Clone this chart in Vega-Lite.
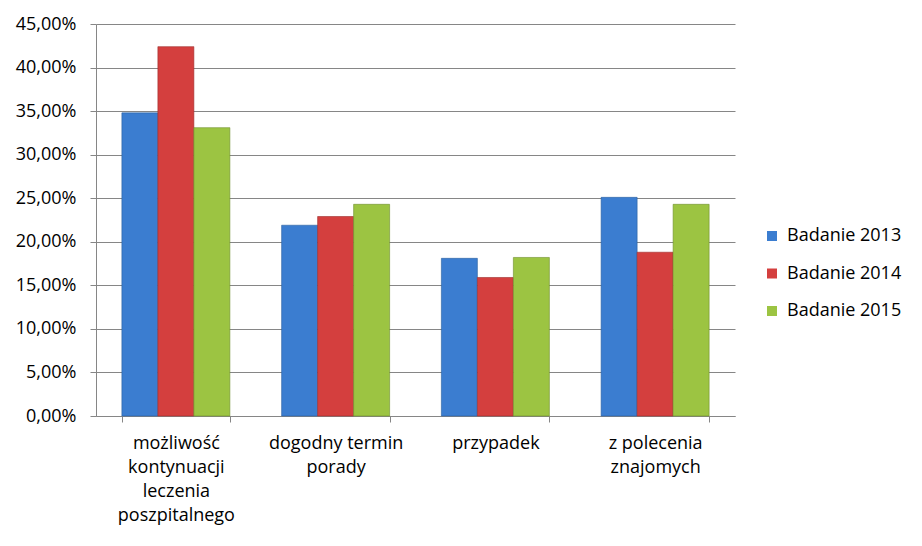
{
  "$schema": "https://vega.github.io/schema/vega-lite/v6.json",
  "autosize": "none",
  "width": 639,
  "height": 392,
  "padding": {"left": 96, "top": 24, "right": 187, "bottom": 130},
  "background": "white",
  "config": {
    "locale": {"number": {"decimal": ",", "thousands": " ", "grouping": [3], "currency": ["", " zł"]}},
    "font": "Open Sans",
    "view": {"stroke": null}
  },
  "data": {
    "values": [
      {"category": "możliwość|kontynuacji|leczenia|poszpitalnego", "series": "Badanie 2013", "value": 0.348},
      {"category": "możliwość|kontynuacji|leczenia|poszpitalnego", "series": "Badanie 2014", "value": 0.424},
      {"category": "możliwość|kontynuacji|leczenia|poszpitalnego", "series": "Badanie 2015", "value": 0.331},
      {"category": "dogodny termin|porady", "series": "Badanie 2013", "value": 0.219},
      {"category": "dogodny termin|porady", "series": "Badanie 2014", "value": 0.229},
      {"category": "dogodny termin|porady", "series": "Badanie 2015", "value": 0.243},
      {"category": "przypadek", "series": "Badanie 2013", "value": 0.181},
      {"category": "przypadek", "series": "Badanie 2014", "value": 0.159},
      {"category": "przypadek", "series": "Badanie 2015", "value": 0.182},
      {"category": "z polecenia|znajomych", "series": "Badanie 2013", "value": 0.251},
      {"category": "z polecenia|znajomych", "series": "Badanie 2014", "value": 0.188},
      {"category": "z polecenia|znajomych", "series": "Badanie 2015", "value": 0.243}
    ]
  },
  "mark": {"type": "bar", "strokeWidth": 0.6},
  "encoding": {
    "x": {
      "field": "category",
      "type": "nominal",
      "sort": null,
      "scale": {"paddingInner": 0.324, "paddingOuter": 0.162},
      "axis": {
        "title": null,
        "labelAngle": 0,
        "labelExpr": "split(datum.label, '|')",
        "labelFontSize": 18,
        "labelColor": "#000000",
        "labelLineHeight": 24,
        "labelPadding": 12,
        "labelBaseline": "top",
        "tickBand": "extent",
        "tickSize": 6,
        "tickColor": "#868686",
        "domainColor": "#868686",
        "labelLimit": 250
      }
    },
    "xOffset": {"field": "series", "type": "nominal"},
    "y": {
      "field": "value",
      "type": "quantitative",
      "scale": {"domain": [0, 0.45], "nice": false},
      "axis": {
        "title": null,
        "format": ".2%",
        "values": [0, 0.05, 0.1, 0.15, 0.2, 0.25, 0.3, 0.35, 0.4, 0.45],
        "labelFontSize": 18,
        "labelColor": "#000000",
        "labelPadding": 14,
        "tickSize": 6,
        "tickColor": "#868686",
        "domainColor": "#868686",
        "gridColor": "#868686",
        "gridWidth": 1
      }
    },
    "color": {
      "field": "series",
      "type": "nominal",
      "scale": {"domain": ["Badanie 2013", "Badanie 2014", "Badanie 2015"], "range": ["#3b7dd0", "#d43f3e", "#9cc442"]},
      "legend": {
        "title": null,
        "orient": "none",
        "legendX": 667,
        "legendY": 203,
        "symbolType": "square",
        "symbolSize": 100,
        "symbolStrokeWidth": 0,
        "labelFontSize": 18,
        "labelColor": "#000000",
        "rowPadding": 19.5,
        "labelOffset": 6
      }
    },
    "stroke": {
      "field": "series",
      "type": "nominal",
      "scale": {"domain": ["Badanie 2013", "Badanie 2014", "Badanie 2015"], "range": ["#2a5f9e", "#9e2d2b", "#6f8f2c"]},
      "legend": null
    }
  }
}
